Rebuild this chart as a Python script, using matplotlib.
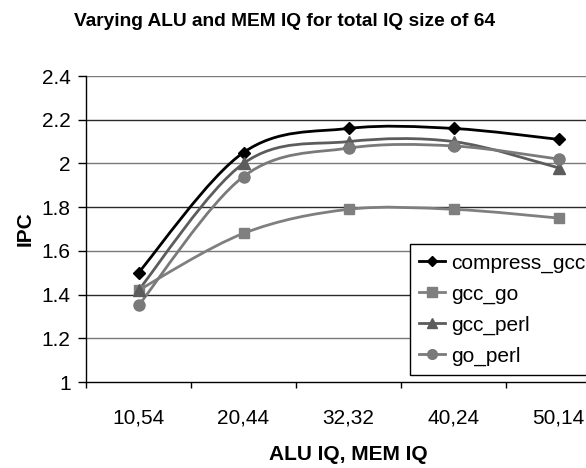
import matplotlib
matplotlib.use("Agg")
import matplotlib.pyplot as plt
from matplotlib.path import Path
from matplotlib.patches import PathPatch
from matplotlib.lines import Line2D
from matplotlib import font_manager

categories = ["10,54", "20,44", "32,32", "40,24", "50,14"]
compress_gcc = [1.50, 2.05, 2.16, 2.16, 2.11]
gcc_go = [1.42, 1.68, 1.79, 1.79, 1.75]
gcc_perl = [1.42, 2.00, 2.10, 2.10, 1.98]
go_perl = [1.35, 1.94, 2.07, 2.08, 2.02]
series_names = ["compress_gcc", "gcc_go", "gcc_perl", "go_perl"]
y_ticks = [1, 1.2, 1.4, 1.6, 1.8, 2, 2.2, 2.4]
y_tick_labels = ["1", "1.2", "1.4", "1.6", "1.8", "2", "2.2", "2.4"]

styles = [
    dict(color="#000000", marker="D", ms=6.5),
    dict(color="#7f7f7f", marker="s", ms=7.5),
    dict(color="#5c5c5c", marker="^", ms=8),
    dict(color="#7a7a7a", marker="o", ms=8),
]

available = {f.name for f in font_manager.fontManager.ttflist}
base_font = "Liberation Sans" if "Liberation Sans" in available else "DejaVu Sans"
title_font = "Liberation Sans Narrow" if "Liberation Sans Narrow" in available else base_font
plt.rcParams["font.family"] = [base_font, "DejaVu Sans"]

fig = plt.figure(figsize=(5.86, 4.68), dpi=100)
ax = fig.add_axes([86 / 586, 1 - 382 / 468, 525 / 586, 306 / 468])

def smooth_path(xs, ys):
    pts = list(zip(xs, ys))
    n = len(pts)
    verts = [pts[0]]
    codes = [Path.MOVETO]
    for i in range(n - 1):
        p0 = pts[i - 1] if i > 0 else pts[i]
        p1 = pts[i]
        p2 = pts[i + 1]
        p3 = pts[i + 2] if i + 2 < n else pts[i + 1]
        c1 = (p1[0] + (p2[0] - p0[0]) / 6, p1[1] + (p2[1] - p0[1]) / 6)
        c2 = (p2[0] - (p3[0] - p1[0]) / 6, p2[1] - (p3[1] - p1[1]) / 6)
        verts += [c1, c2, p2]
        codes += [Path.CURVE4] * 3
    return Path(verts, codes)

xs = list(range(len(categories)))
all_series = [compress_gcc, gcc_go, gcc_perl, go_perl]
handles = []
for name, vals, st in zip(series_names, all_series, styles):
    patch = PathPatch(smooth_path(xs, vals), facecolor="none",
                      edgecolor=st["color"], lw=2.0, zorder=3)
    ax.add_patch(patch)
    ax.plot(xs, vals, linestyle="none", marker=st["marker"], ms=st["ms"],
            color=st["color"], zorder=4)
    handles.append(Line2D([], [], color=st["color"], lw=2.0,
                          marker=st["marker"], ms=st["ms"] - 1, label=name))

ax.set_xlim(-0.5, len(categories) - 0.5)
ax.set_ylim(1, 2.4)
ax.set_yticks(y_ticks)
ax.set_yticklabels(y_tick_labels, fontsize=15)
ax.set_xticks(xs)
ax.set_xticklabels(categories, fontsize=15)
ax.set_xticks([x - 0.5 for x in range(len(categories) + 1)], minor=True)
ax.tick_params(axis="x", which="major", length=0, pad=19)
ax.tick_params(axis="x", which="minor", length=4.5, width=1, direction="out", color="#000")
ax.tick_params(axis="y", which="major", length=5.5, width=1, direction="out", pad=5.5, color="#000")

grid_colors = ["#7a7a7a", "#2a2a2a"]
for i, y in enumerate(y_ticks[1:]):
    ax.axhline(y, color=grid_colors[i % 2], lw=1.0, zorder=1)

for s in ["top", "right"]:
    ax.spines[s].set_visible(False)
ax.spines["left"].set_linewidth(1.0)
ax.spines["bottom"].set_linewidth(1.0)

ax.set_xlabel("ALU IQ, MEM IQ", fontsize=15, fontweight="bold", labelpad=13)
ax.set_ylabel("IPC", fontsize=15, fontweight="bold", labelpad=5)

fig.text(285 / 586, 1 - 21 / 468, "Varying ALU and MEM IQ for total IQ size of 64",
         ha="center", va="center", fontsize=13.8, fontweight="bold",
         family=[title_font, "DejaVu Sans"])

leg = fig.legend(handles=handles, loc="upper left",
                 bbox_to_anchor=(410 / 586, 1 - 244 / 468),
                 bbox_transform=fig.transFigure, borderaxespad=0,
                 fontsize=15, frameon=True, fancybox=False, framealpha=1,
                 edgecolor="#000000", handlelength=1.25, handletextpad=0.25,
                 labelspacing=0.57, borderpad=0.45)
leg.get_frame().set_linewidth(1.0)

fig.savefig("out.png", dpi=100)
